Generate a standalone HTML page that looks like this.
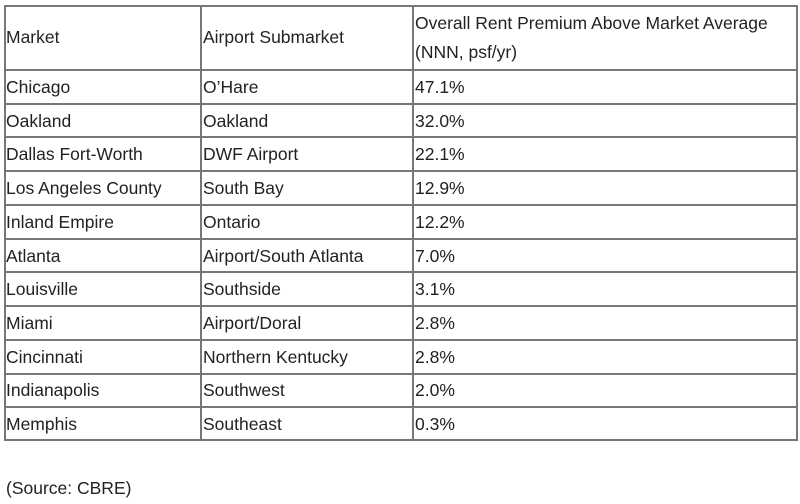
<!DOCTYPE html>
<html><head><meta charset="utf-8"><style>
body{margin:0;width:800px;height:504px;background:#fff;font-family:"Liberation Sans",sans-serif;font-size:17.5px;color:#222;position:relative;overflow:hidden}
.t{position:absolute;left:4px;top:5px;width:794px;height:436px;border:2px solid #777;box-sizing:border-box}
.h{position:absolute;background:#777}
.c{position:absolute;white-space:nowrap;line-height:20px}
</style></head><body>
<div id="root"></div>
<div class="c" style="left:6px;top:478px">(Source: CBRE)</div>
<script>
const markets=["Chicago","Oakland","Dallas Fort-Worth","Los Angeles County","Inland Empire","Atlanta","Louisville","Miami","Cincinnati","Indianapolis","Memphis"];
const submarkets=["O’Hare","Oakland","DWF Airport","South Bay","Ontario","Airport/South Atlanta","Southside","Airport/Doral","Northern Kentucky","Southwest","Southeast"];
const premiums=["47.1%","32.0%","22.1%","12.9%","12.2%","7.0%","3.1%","2.8%","2.8%","2.0%","0.3%"];
const root=document.getElementById('root');
const t=document.createElement('div');t.className='t';


root.appendChild(t);
const colX=[4,201,413,798];
const headerBottom=70, bottom=441, rowH=(bottom-headerBottom)/markets.length;
function line(x,y,w,h,n){const d=document.createElement('div');d.className='h';d.style.cssText=`left:${x}px;top:${y}px;width:${w}px;height:${h}px`;


root.appendChild(d);}
line(colX[1]-1,5,2,436,'column-divider');
line(colX[2]-1,5,2,436,'column-divider');
for(let i=0;i<markets.length;i++){line(4,Math.round(headerBottom+i*rowH)-1,794,2,'row-divider');}
function txt(x,y,s,n){const d=document.createElement('div');d.className='c';d.style.left=x+'px';d.style.top=y+'px';d.textContent=s;


root.appendChild(d);}
txt(6,27,"Market",'header-market');
txt(203,27,"Airport Submarket",'header-submarket');
txt(415,13,"Overall Rent Premium Above Market Average",'header-premium');
txt(415,42,"(NNN, psf/yr)",'header-premium-units');
for(let i=0;i<markets.length;i++){const y=Math.round(headerBottom+i*rowH+rowH/2-10);
txt(6,y,markets[i],'market-cell');txt(203,y,submarkets[i],'submarket-cell');txt(415,y,premiums[i],'premium-cell');}
</script>
</body></html>
